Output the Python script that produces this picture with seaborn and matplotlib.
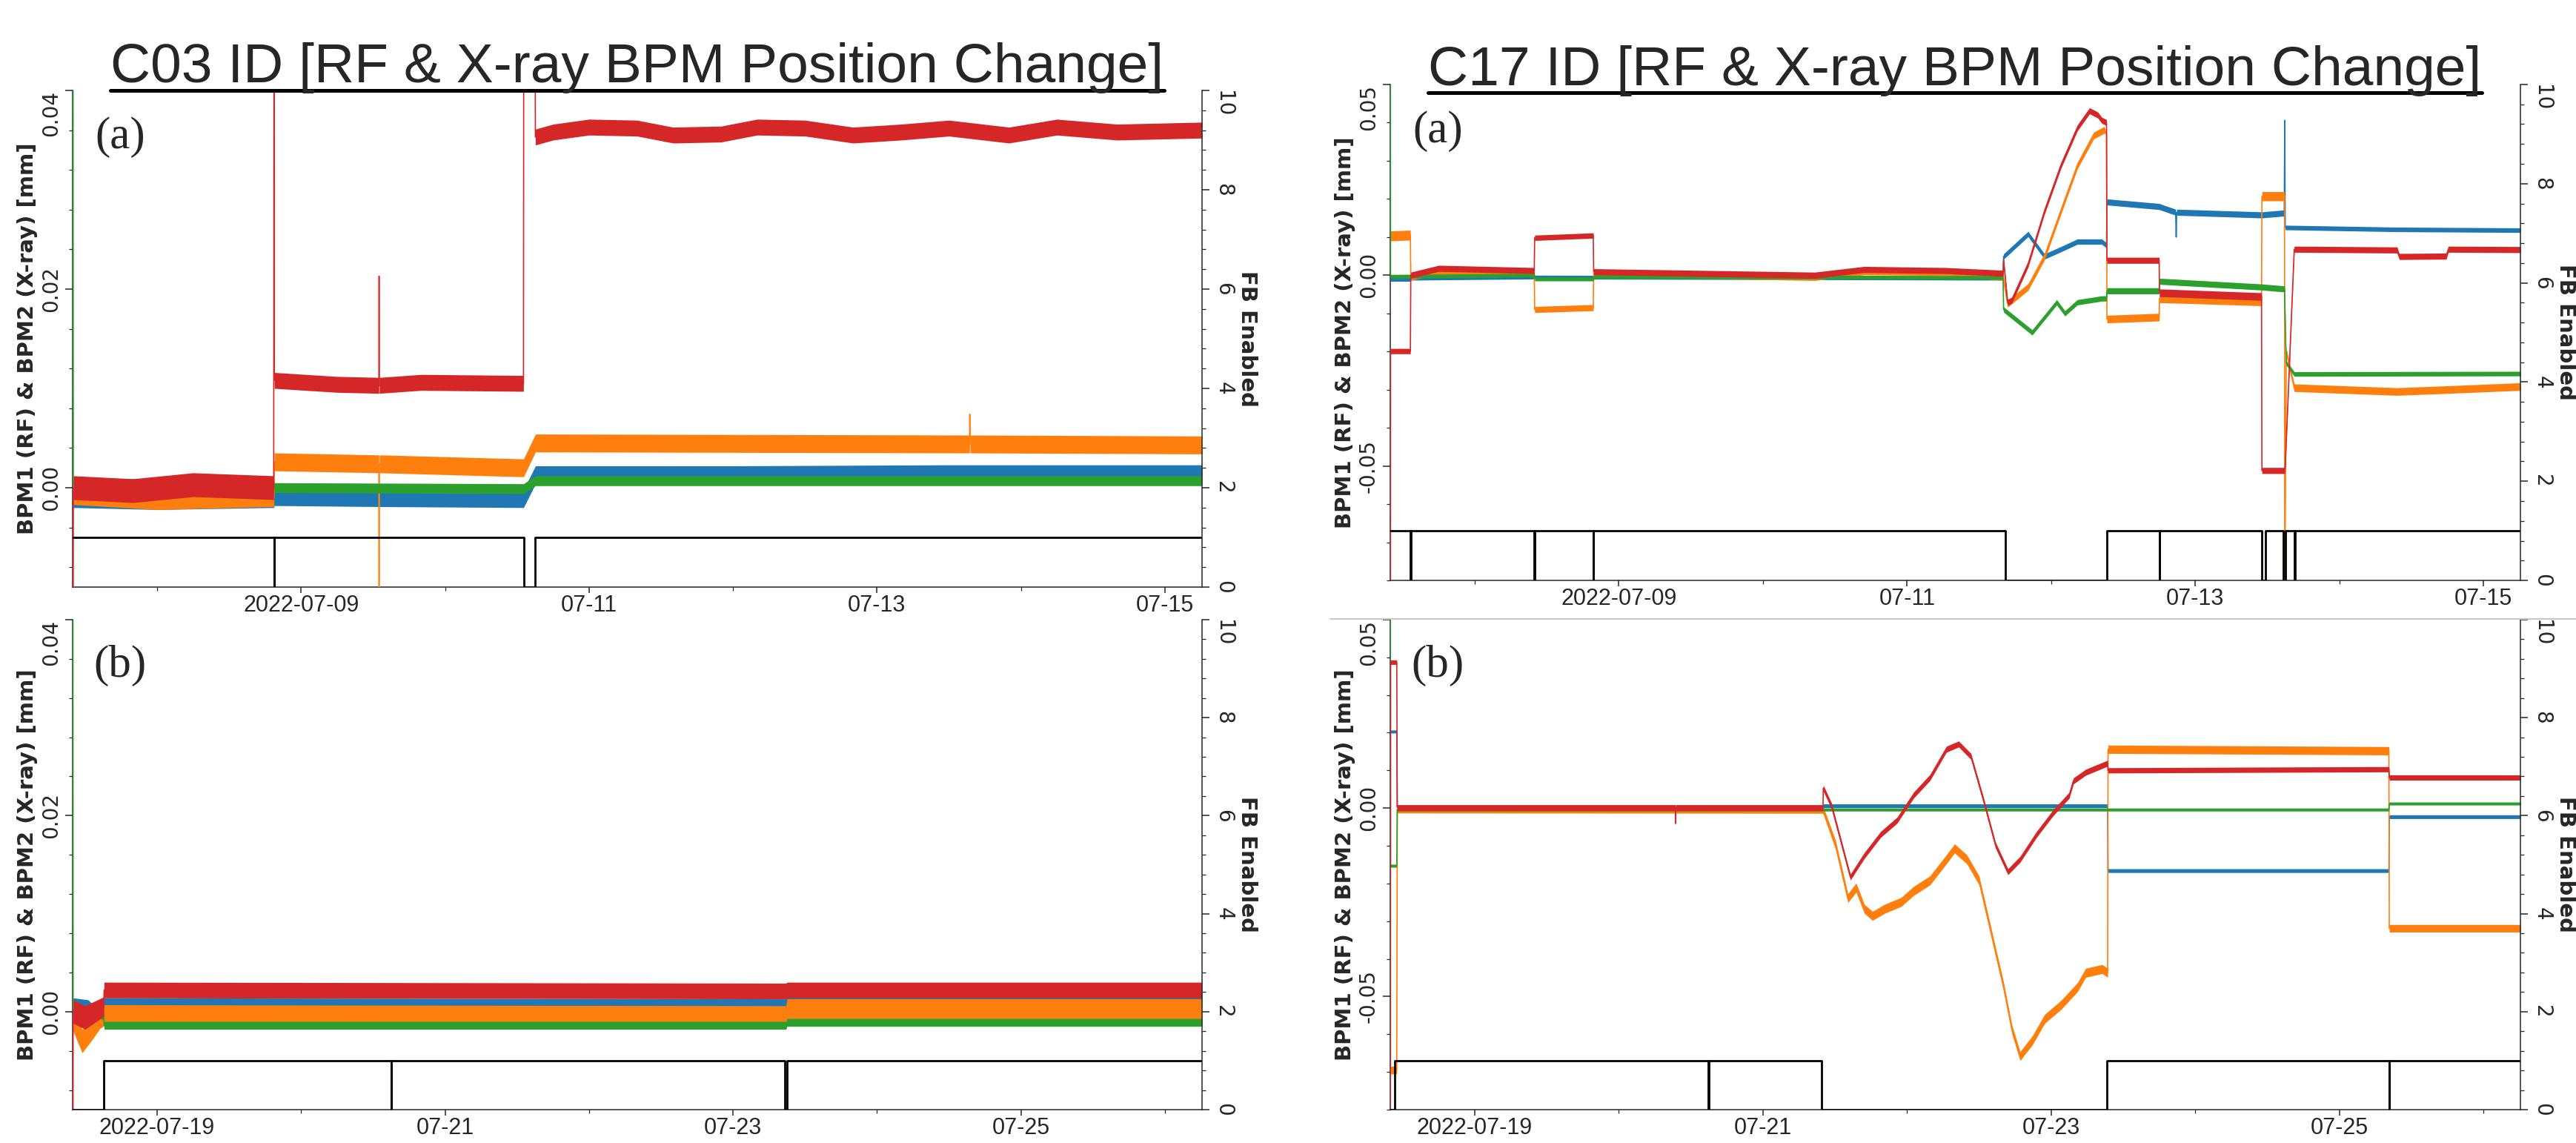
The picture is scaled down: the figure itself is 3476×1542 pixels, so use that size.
import matplotlib
matplotlib.use("Agg")
import pandas as pd
import matplotlib.pyplot as plt
from matplotlib.lines import Line2D
from matplotlib.ticker import AutoMinorLocator
import matplotlib.dates as mdates
import seaborn as sns

# ---------------- data ----------------
# each point: (time, position [mm], half-width of the noise band [mm])

C03_A_BLUE = [
    ("2022-07-07 10:00", -0.0012, 0.0008), ("2022-07-08 00:00", -0.0014, 0.0008),
    ("2022-07-08 19:28", -0.0012, 0.0008), ("2022-07-08 19:32", -0.0009, 0.0009),
    ("2022-07-09 12:00", -0.0010, 0.0009), ("2022-07-10 13:05", -0.0011, 0.0009),
    ("2022-07-10 15:04", 0.0013, 0.0009), ("2022-07-12 00:00", 0.0013, 0.0009),
    ("2022-07-13 12:00", 0.0014, 0.0009), ("2022-07-15 06:10", 0.0014, 0.0009),
]
C03_A_ORANGE = [
    ("2022-07-07 10:00", -0.0008, 0.0009), ("2022-07-08 00:00", -0.0013, 0.0009),
    ("2022-07-08 19:28", -0.0010, 0.0009), ("2022-07-08 19:32", 0.0026, 0.0009),
    ("2022-07-09 12:58", 0.0024, 0.0009), ("2022-07-09 13:00", -0.0150, 0.0),
    ("2022-07-09 13:02", 0.0024, 0.0009), ("2022-07-10 13:05", 0.0020, 0.0009),
    ("2022-07-10 15:04", 0.0045, 0.0009), ("2022-07-13 15:25", 0.0044, 0.0009),
    ("2022-07-13 15:28", 0.0074, 0.0), ("2022-07-13 15:31", 0.0044, 0.0009),
    ("2022-07-15 06:10", 0.0043, 0.0009),
]
C03_A_GREEN = [
    ("2022-07-07 09:57", 0.0800, 0.0), ("2022-07-07 10:02", 0.0004, 0.0005),
    ("2022-07-08 19:28", 0.0004, 0.0005), ("2022-07-08 19:32", 0.0000, 0.0005),
    ("2022-07-10 13:05", -0.0001, 0.0005), ("2022-07-10 15:04", 0.0007, 0.0005),
    ("2022-07-15 06:10", 0.0007, 0.0005),
]
C03_A_RED = [
    ("2022-07-07 09:57", -0.0500, 0.0), ("2022-07-07 10:02", 0.0000, 0.0012),
    ("2022-07-07 20:00", -0.0003, 0.0012), ("2022-07-08 06:00", 0.0003, 0.0012),
    ("2022-07-08 19:26", 0.0000, 0.0012), ("2022-07-08 19:29", 0.0500, 0.0),
    ("2022-07-08 19:32", 0.0108, 0.0008), ("2022-07-09 06:00", 0.0104, 0.0008),
    ("2022-07-09 12:58", 0.0103, 0.0008), ("2022-07-09 13:00", 0.0213, 0.0),
    ("2022-07-09 13:02", 0.0103, 0.0008), ("2022-07-09 20:00", 0.0106, 0.0008),
    ("2022-07-10 13:04", 0.0105, 0.0008), ("2022-07-10 13:07", 0.0500, 0.0),
    ("2022-07-10 15:00", 0.0500, 0.0), ("2022-07-10 15:03", 0.0353, 0.0008),
    ("2022-07-10 18:00", 0.0358, 0.0008), ("2022-07-11 00:00", 0.0363, 0.0008),
    ("2022-07-11 08:00", 0.0362, 0.0008), ("2022-07-11 14:00", 0.0355, 0.0008),
    ("2022-07-11 22:00", 0.0356, 0.0008), ("2022-07-12 04:00", 0.0363, 0.0008),
    ("2022-07-12 12:00", 0.0362, 0.0008), ("2022-07-12 20:00", 0.0355, 0.0008),
    ("2022-07-13 04:00", 0.0358, 0.0008), ("2022-07-13 12:00", 0.0362, 0.0008),
    ("2022-07-13 22:00", 0.0355, 0.0008), ("2022-07-14 06:00", 0.0363, 0.0008),
    ("2022-07-14 16:00", 0.0358, 0.0008), ("2022-07-15 06:10", 0.0360, 0.0008),
]
C03_A_FB = [
    ("2022-07-07 09:55", 1), ("2022-07-08 19:29", 0), ("2022-07-08 19:31", 1),
    ("2022-07-10 13:06", 0), ("2022-07-10 15:02", 1), ("2022-07-15 06:10", 1),
]

C03_B_BLUE = [
    ("2022-07-18 10:00", 0.0008, 0.0006), ("2022-07-18 12:30", 0.0006, 0.0006),
    ("2022-07-18 13:30", 0.0000, 0.0006), ("2022-07-18 15:05", 0.0000, 0.0006),
    ("2022-07-18 15:10", 0.0009, 0.0005), ("2022-07-23 08:50", 0.0008, 0.0005),
    ("2022-07-23 09:00", 0.0011, 0.0005), ("2022-07-26 06:10", 0.0011, 0.0005),
]
C03_B_ORANGE = [
    ("2022-07-18 10:00", -0.0010, 0.0010), ("2022-07-18 11:30", -0.0030, 0.0012),
    ("2022-07-18 13:00", -0.0020, 0.0010), ("2022-07-18 14:30", -0.0008, 0.0009),
    ("2022-07-18 15:05", -0.0006, 0.0009), ("2022-07-18 15:10", -0.0002, 0.0009),
    ("2022-07-23 08:50", -0.0003, 0.0009), ("2022-07-23 09:00", 0.0001, 0.0012),
    ("2022-07-26 06:10", 0.0001, 0.0012),
]
C03_B_GREEN = [
    ("2022-07-18 09:56", 0.1000, 0.0), ("2022-07-18 10:00", 0.0003, 0.0006),
    ("2022-07-18 15:05", -0.0003, 0.0005), ("2022-07-18 15:10", -0.0014, 0.0004),
    ("2022-07-23 08:50", -0.0014, 0.0004), ("2022-07-23 09:00", -0.0011, 0.0004),
    ("2022-07-26 06:10", -0.0011, 0.0004),
]
C03_B_RED = [
    ("2022-07-18 09:56", -0.0500, 0.0), ("2022-07-18 10:00", 0.0000, 0.0012),
    ("2022-07-18 12:00", -0.0006, 0.0012), ("2022-07-18 15:05", 0.0005, 0.0010),
    ("2022-07-18 15:10", 0.0022, 0.0008), ("2022-07-23 08:50", 0.0021, 0.0008),
    ("2022-07-23 09:00", 0.0022, 0.0008), ("2022-07-26 06:10", 0.0022, 0.0008),
]
C03_B_FB = [
    ("2022-07-18 09:55", 0), ("2022-07-18 15:07", 1), ("2022-07-20 15:00", 0),
    ("2022-07-20 15:03", 1), ("2022-07-23 08:40", 0), ("2022-07-23 09:00", 1),
    ("2022-07-26 06:10", 1),
]

C17_A_BLUE = [
    ("2022-07-07 09:58", -0.0011, 0.0005), ("2022-07-07 13:15", -0.0011, 0.0005),
    ("2022-07-07 13:20", -0.0008, 0.0005), ("2022-07-08 09:56", -0.0005, 0.0005),
    ("2022-07-11 16:00", -0.0008, 0.0005), ("2022-07-11 16:05", 0.0049, 0.0007),
    ("2022-07-11 20:10", 0.0108, 0.0007), ("2022-07-11 22:54", 0.0049, 0.0007),
    ("2022-07-12 01:37", 0.0068, 0.0007), ("2022-07-12 04:22", 0.0088, 0.0007),
    ("2022-07-12 08:27", 0.0088, 0.0007), ("2022-07-12 09:14", 0.0078, 0.0007),
    ("2022-07-12 09:18", 0.0192, 0.0008), ("2022-07-12 18:00", 0.0180, 0.0008),
    ("2022-07-12 20:45", 0.0165, 0.0008), ("2022-07-12 20:50", 0.0100, 0.0),
    ("2022-07-12 20:55", 0.0165, 0.0008), ("2022-07-13 11:05", 0.0158, 0.0008),
    ("2022-07-13 14:50", 0.0163, 0.0008), ("2022-07-13 14:55", 0.0406, 0.0),
    ("2022-07-13 15:00", 0.0125, 0.0006), ("2022-07-14 09:38", 0.0120, 0.0006),
    ("2022-07-15 06:10", 0.0118, 0.0006),
]
C17_A_ORANGE = [
    ("2022-07-07 09:58", 0.0103, 0.0013), ("2022-07-07 13:16", 0.0105, 0.0013),
    ("2022-07-07 13:20", -0.0005, 0.0008), ("2022-07-07 18:00", 0.0010, 0.0008),
    ("2022-07-08 09:54", 0.0008, 0.0008), ("2022-07-08 09:58", -0.0090, 0.0008),
    ("2022-07-08 19:44", -0.0085, 0.0008), ("2022-07-08 19:48", 0.0005, 0.0009),
    ("2022-07-10 08:38", -0.0005, 0.0009), ("2022-07-10 16:50", 0.0010, 0.0009),
    ("2022-07-11 06:30", 0.0008, 0.0009), ("2022-07-11 16:00", -0.0005, 0.0009),
    ("2022-07-11 16:45", -0.0075, 0.0009), ("2022-07-11 20:10", -0.0031, 0.0009),
    ("2022-07-11 22:54", 0.0049, 0.0009), ("2022-07-12 01:37", 0.0168, 0.0009),
    ("2022-07-12 04:22", 0.0287, 0.0009), ("2022-07-12 07:05", 0.0366, 0.0009),
    ("2022-07-12 08:52", 0.0381, 0.0009), ("2022-07-12 09:14", 0.0370, 0.0),
    ("2022-07-12 09:18", -0.0115, 0.0010), ("2022-07-12 18:00", -0.0110, 0.0010),
    ("2022-07-12 18:03", -0.0060, 0.0012), ("2022-07-13 11:03", -0.0068, 0.0012),
    ("2022-07-13 11:07", 0.0207, 0.0012), ("2022-07-13 14:53", 0.0207, 0.0012),
    ("2022-07-13 14:55", -0.0900, 0.0), ("2022-07-13 15:10", -0.0200, 0.0010),
    ("2022-07-13 16:30", -0.0295, 0.0010), ("2022-07-14 09:38", -0.0305, 0.0010),
    ("2022-07-14 17:49", -0.0300, 0.0010), ("2022-07-15 06:10", -0.0292, 0.0010),
]
C17_A_GREEN = [
    ("2022-07-07 09:56", 0.1000, 0.0), ("2022-07-07 09:58", -0.0003, 0.0005),
    ("2022-07-08 09:56", 0.0000, 0.0005), ("2022-07-08 10:00", -0.0010, 0.0005),
    ("2022-07-08 19:46", -0.0010, 0.0005), ("2022-07-08 19:50", -0.0004, 0.0005),
    ("2022-07-11 16:00", -0.0006, 0.0005), ("2022-07-11 16:05", -0.0090, 0.0007),
    ("2022-07-11 20:51", -0.0150, 0.0007), ("2022-07-12 00:56", -0.0071, 0.0007),
    ("2022-07-12 02:18", -0.0100, 0.0007), ("2022-07-12 04:22", -0.0071, 0.0007),
    ("2022-07-12 08:27", -0.0061, 0.0007), ("2022-07-12 09:14", -0.0061, 0.0007),
    ("2022-07-12 09:18", -0.0041, 0.0008), ("2022-07-12 18:00", -0.0041, 0.0008),
    ("2022-07-12 18:03", -0.0016, 0.0008), ("2022-07-13 11:05", -0.0031, 0.0008),
    ("2022-07-13 14:53", -0.0036, 0.0008), ("2022-07-13 15:10", -0.0230, 0.0006),
    ("2022-07-13 16:30", -0.0259, 0.0006), ("2022-07-15 06:10", -0.0258, 0.0006),
]
C17_A_RED = [
    ("2022-07-07 09:56", -0.2000, 0.0), ("2022-07-07 09:58", -0.0199, 0.0007),
    ("2022-07-07 13:16", -0.0199, 0.0007), ("2022-07-07 13:20", 0.0000, 0.0008),
    ("2022-07-07 18:00", 0.0018, 0.0008), ("2022-07-08 09:54", 0.0012, 0.0008),
    ("2022-07-08 09:58", 0.0098, 0.0007), ("2022-07-08 19:44", 0.0104, 0.0007),
    ("2022-07-08 19:48", 0.0009, 0.0008), ("2022-07-10 08:38", 0.0000, 0.0008),
    ("2022-07-10 16:50", 0.0015, 0.0008), ("2022-07-11 06:30", 0.0012, 0.0008),
    ("2022-07-11 16:00", 0.0005, 0.0008), ("2022-07-11 16:05", 0.0039, 0.0008),
    ("2022-07-11 16:45", -0.0071, 0.0008), ("2022-07-11 17:26", -0.0066, 0.0008),
    ("2022-07-11 20:10", 0.0029, 0.0008), ("2022-07-11 22:54", 0.0168, 0.0008),
    ("2022-07-12 01:37", 0.0287, 0.0008), ("2022-07-12 04:22", 0.0386, 0.0008),
    ("2022-07-12 06:24", 0.0431, 0.0008), ("2022-07-12 07:46", 0.0420, 0.0008),
    ("2022-07-12 08:27", 0.0406, 0.0008), ("2022-07-12 09:14", 0.0400, 0.0008),
    ("2022-07-12 09:18", 0.0039, 0.0008), ("2022-07-12 18:00", 0.0039, 0.0008),
    ("2022-07-12 18:03", -0.0046, 0.0010), ("2022-07-13 11:03", -0.0056, 0.0010),
    ("2022-07-13 11:07", -0.0512, 0.0008), ("2022-07-13 14:53", -0.0512, 0.0008),
    ("2022-07-13 15:00", -0.0500, 0.0008), ("2022-07-13 16:30", 0.0068, 0.0008),
    ("2022-07-14 09:38", 0.0066, 0.0008), ("2022-07-14 10:00", 0.0049, 0.0008),
    ("2022-07-14 17:49", 0.0050, 0.0008), ("2022-07-14 18:10", 0.0068, 0.0008),
    ("2022-07-15 06:10", 0.0067, 0.0008),
]
C17_A_FB = [
    ("2022-07-07 09:55", 1), ("2022-07-07 13:17", 0), ("2022-07-07 13:19", 1),
    ("2022-07-08 09:55", 0), ("2022-07-08 09:57", 1), ("2022-07-08 19:45", 0),
    ("2022-07-08 19:47", 1), ("2022-07-11 16:25", 0), ("2022-07-12 09:16", 1),
    ("2022-07-12 18:00", 0), ("2022-07-12 18:06", 1), ("2022-07-13 11:05", 0),
    ("2022-07-13 11:45", 1), ("2022-07-13 14:40", 0), ("2022-07-13 15:00", 1),
    ("2022-07-13 16:33", 0), ("2022-07-13 16:36", 1), ("2022-07-15 06:10", 1),
]

C17_B_BLUE = [
    ("2022-07-18 09:57", 0.0203, 0.0004), ("2022-07-18 11:00", 0.0203, 0.0004),
    ("2022-07-18 11:05", 0.0003, 0.0004), ("2022-07-21 10:00", 0.0002, 0.0004),
    ("2022-07-21 10:05", 0.0006, 0.0005), ("2022-07-23 09:25", 0.0006, 0.0005),
    ("2022-07-23 09:29", -0.0166, 0.0005), ("2022-07-25 08:16", -0.0166, 0.0005),
    ("2022-07-25 08:20", -0.0023, 0.0005), ("2022-07-26 06:10", -0.0023, 0.0005),
]
C17_B_ORANGE = [
    ("2022-07-18 09:57", -0.0695, 0.0010), ("2022-07-18 11:00", -0.0695, 0.0010),
    ("2022-07-18 11:05", -0.0003, 0.0010), ("2022-07-21 10:00", -0.0004, 0.0010),
    ("2022-07-21 12:06", -0.0098, 0.0012), ("2022-07-21 14:09", -0.0239, 0.0012),
    ("2022-07-21 15:31", -0.0211, 0.0012), ("2022-07-21 16:53", -0.0267, 0.0012),
    ("2022-07-21 18:14", -0.0286, 0.0012), ("2022-07-21 20:18", -0.0267, 0.0012),
    ("2022-07-21 23:02", -0.0249, 0.0012), ("2022-07-22 01:05", -0.0220, 0.0012),
    ("2022-07-22 03:49", -0.0192, 0.0012), ("2022-07-22 06:33", -0.0136, 0.0012),
    ("2022-07-22 07:55", -0.0107, 0.0012), ("2022-07-22 09:58", -0.0136, 0.0012),
    ("2022-07-22 12:00", -0.0192, 0.0012), ("2022-07-22 14:03", -0.0333, 0.0012),
    ("2022-07-22 16:06", -0.0475, 0.0012), ("2022-07-22 17:29", -0.0588, 0.0012),
    ("2022-07-22 18:50", -0.0658, 0.0012), ("2022-07-22 20:53", -0.0616, 0.0012),
    ("2022-07-22 22:56", -0.0559, 0.0012), ("2022-07-23 01:40", -0.0522, 0.0012),
    ("2022-07-23 04:24", -0.0475, 0.0012), ("2022-07-23 05:46", -0.0437, 0.0012),
    ("2022-07-23 08:30", -0.0427, 0.0012), ("2022-07-23 09:25", -0.0437, 0.0012),
    ("2022-07-23 09:29", 0.0156, 0.0011), ("2022-07-25 08:16", 0.0152, 0.0011),
    ("2022-07-25 08:20", -0.0319, 0.0010), ("2022-07-26 06:10", -0.0319, 0.0010),
]
C17_B_GREEN = [
    ("2022-07-18 09:56", 0.1000, 0.0), ("2022-07-18 09:58", -0.0153, 0.0004),
    ("2022-07-18 11:00", -0.0153, 0.0004), ("2022-07-18 11:05", -0.0004, 0.0004),
    ("2022-07-25 08:16", -0.0004, 0.0004), ("2022-07-25 08:20", 0.0012, 0.0004),
    ("2022-07-26 06:10", 0.0012, 0.0004),
]
C17_B_RED = [
    ("2022-07-18 09:55", -0.2000, 0.0), ("2022-07-18 09:58", 0.0387, 0.0006),
    ("2022-07-18 11:00", 0.0387, 0.0006), ("2022-07-18 11:05", 0.0001, 0.0008),
    ("2022-07-20 09:25", 0.0001, 0.0008), ("2022-07-20 09:27", -0.0041, 0.0),
    ("2022-07-20 09:29", 0.0001, 0.0008), ("2022-07-21 10:00", 0.0001, 0.0008),
    ("2022-07-21 10:03", 0.0053, 0.0008), ("2022-07-21 11:25", 0.0006, 0.0008),
    ("2022-07-21 14:34", -0.0183, 0.0008), ("2022-07-21 16:53", -0.0126, 0.0008),
    ("2022-07-21 19:36", -0.0070, 0.0008), ("2022-07-21 22:21", -0.0032, 0.0008),
    ("2022-07-22 01:05", 0.0034, 0.0008), ("2022-07-22 03:49", 0.0081, 0.0008),
    ("2022-07-22 06:33", 0.0156, 0.0008), ("2022-07-22 08:36", 0.0170, 0.0008),
    ("2022-07-22 10:39", 0.0137, 0.0008), ("2022-07-22 12:41", 0.0024, 0.0008),
    ("2022-07-22 14:44", -0.0098, 0.0008), ("2022-07-22 16:48", -0.0169, 0.0008),
    ("2022-07-22 18:50", -0.0136, 0.0008), ("2022-07-22 21:34", -0.0070, 0.0008),
    ("2022-07-23 00:18", -0.0013, 0.0008), ("2022-07-23 03:01", 0.0034, 0.0008),
    ("2022-07-23 03:43", 0.0072, 0.0008), ("2022-07-23 05:46", 0.0095, 0.0008),
    ("2022-07-23 08:30", 0.0113, 0.0008), ("2022-07-23 09:25", 0.0119, 0.0008),
    ("2022-07-23 09:29", 0.0100, 0.0007), ("2022-07-25 08:16", 0.0103, 0.0007),
    ("2022-07-25 08:20", 0.0081, 0.0007), ("2022-07-26 06:10", 0.0081, 0.0007),
]
C17_B_FB = [
    ("2022-07-18 09:55", 0), ("2022-07-18 10:40", 1), ("2022-07-20 14:55", 0),
    ("2022-07-20 14:58", 1), ("2022-07-21 09:46", 0), ("2022-07-23 09:19", 1),
    ("2022-07-25 08:17", 0), ("2022-07-25 08:20", 1), ("2022-07-26 06:10", 1),
]

TITLES = ["C03 ID [RF & X-ray BPM Position Change]", "C17 ID [RF & X-ray BPM Position Change]"]
PANEL_TAGS = ["(a)", "(b)"]
XLIM_A = ["2022-07-07 09:55", "2022-07-15 06:10"]
XLIM_B = ["2022-07-18 09:55", "2022-07-26 06:10"]
XTICKS_A = ["2022-07-09", "2022-07-11", "2022-07-13", "2022-07-15"]
XTICKLABELS_A = ["2022-07-09", "07-11", "07-13", "07-15"]
XTICKS_B = ["2022-07-19", "2022-07-21", "2022-07-23", "2022-07-25"]
XTICKLABELS_B = ["2022-07-19", "07-21", "07-23", "07-25"]
C03_YTICKS = [0.0, 0.02, 0.04]
C03_YTICKLABELS = ["0.00", "0.02", "0.04"]
C17_YTICKS = [-0.05, 0.0, 0.05]
C17_YTICKLABELS = ["-0.05", "0.00", "0.05"]
FB_TICKS = [0, 2, 4, 6, 8, 10]
FB_TICKLABELS = ["0", "2", "4", "6", "8", "10"]

# ---------------- style ----------------
SERIES_ORDER = ["blue", "orange", "green", "red"]
PALETTE = {"blue": "#1f77b4", "orange": "#ff7f0e", "green": "#2ca02c", "red": "#d62728"}
NARROW = ["Liberation Sans", "DejaVu Sans"]

sns.set_style("ticks")
plt.rcParams["font.family"] = ["DejaVu Sans"]
plt.rcParams["axes.linewidth"] = 1.1


def to_frame(points):
    df = pd.DataFrame(points, columns=["time", "value", "spread"])
    df["time"] = pd.to_datetime(df["time"])
    return df


def draw_panel(fig, rect, series, fb, ylim, yticks, yticklabels, xlim, xticks, xticklabels, tag):
    ax = fig.add_axes(rect)
    for i, (name, pts) in enumerate(zip(SERIES_ORDER, series)):
        df = to_frame(pts)
        ax.fill_between(df["time"], df["value"] - df["spread"], df["value"] + df["spread"],
                        color=PALETTE[name], lw=0, zorder=3 + 2 * i)
        sns.lineplot(data=df, x="time", y="value", ax=ax, color=PALETTE[name], lw=1.2,
                     estimator=None, sort=False, zorder=4 + 2 * i)

    ax2 = ax.twinx()
    fb_df = pd.DataFrame(fb, columns=["time", "state"])
    fb_df["time"] = pd.to_datetime(fb_df["time"])
    sns.lineplot(data=fb_df, x="time", y="state", ax=ax2, color="black", lw=2.0,
                 estimator=None, sort=False, drawstyle="steps-post")

    ax.set_xlim(pd.to_datetime(xlim[0]), pd.to_datetime(xlim[1]))
    ax.set_ylim(*ylim)
    ax2.set_ylim(0, 10)

    ax.set_xticks(pd.to_datetime(xticks))
    ax.set_xticklabels(xticklabels, fontsize=22, family=NARROW)
    ax.xaxis.set_minor_locator(mdates.DayLocator(bymonthday=range(2, 32, 2)))
    ax.set_xlabel("")
    ax2.set_xlabel("")

    ax.set_yticks(yticks)
    ax.set_yticklabels(yticklabels, rotation=90, va="center", fontsize=20)
    ax.get_yticklabels()[-1].set_va("top")
    ax.yaxis.set_minor_locator(AutoMinorLocator(5))

    ax2.set_yticks(FB_TICKS)
    ax2.set_yticklabels(FB_TICKLABELS, rotation=270, va="center", fontsize=20)
    ax2.get_yticklabels()[-1].set_va("top")
    ax2.yaxis.set_minor_locator(AutoMinorLocator(5))

    for a in (ax, ax2):
        a.tick_params(which="major", length=7, width=1.1, pad=4)
        a.tick_params(which="minor", length=3.5, width=0.9)
        a.spines["top"].set_visible(False)
    ax.tick_params(axis="x", which="major", length=6, pad=1)
    ax.spines["right"].set_visible(False)
    ax2.spines["left"].set_visible(False)
    ax2.spines["bottom"].set_visible(False)

    ax.set_ylabel("BPM1 (RF) & BPM2 (X-ray) [mm]", fontsize=21, fontweight="bold", va="center")
    ax.yaxis.set_label_coords(-0.040, 0.5)
    ax2.set_ylabel("FB Enabled", fontsize=21, fontweight="bold", rotation=270, va="center")
    ax2.yaxis.set_label_coords(1.040, 0.5)

    ax.text(0.042, 0.906, tag, transform=ax.transAxes, fontsize=44,
            family="Liberation Serif", ha="center", va="center")
    return ax


fig = plt.figure(figsize=(34.76, 15.42), dpi=100)

draw_panel(fig, [0.0282, 0.4864, 0.4384, 0.4345],
           [C03_A_BLUE, C03_A_ORANGE, C03_A_GREEN, C03_A_RED], C03_A_FB,
           (-0.01, 0.04), C03_YTICKS, C03_YTICKLABELS, XLIM_A, XTICKS_A, XTICKLABELS_A, PANEL_TAGS[0])
draw_panel(fig, [0.0282, 0.0292, 0.4384, 0.4287],
           [C03_B_BLUE, C03_B_ORANGE, C03_B_GREEN, C03_B_RED], C03_B_FB,
           (-0.01, 0.04), C03_YTICKS, C03_YTICKLABELS, XLIM_B, XTICKS_B, XTICKLABELS_B, PANEL_TAGS[1])
draw_panel(fig, [0.5397, 0.4922, 0.4387, 0.4339],
           [C17_A_BLUE, C17_A_ORANGE, C17_A_GREEN, C17_A_RED], C17_A_FB,
           (-0.08, 0.05), C17_YTICKS, C17_YTICKLABELS, XLIM_A, XTICKS_A, XTICKLABELS_A, PANEL_TAGS[0])
draw_panel(fig, [0.5397, 0.0292, 0.4387, 0.4287],
           [C17_B_BLUE, C17_B_ORANGE, C17_B_GREEN, C17_B_RED], C17_B_FB,
           (-0.08, 0.05), C17_YTICKS, C17_YTICKLABELS, XLIM_B, XTICKS_B, XTICKLABELS_B, PANEL_TAGS[1])

# underlined titles
title_objs = [
    (fig.text(0.2474, 0.928, TITLES[0], ha="center", va="baseline", fontsize=54, family=NARROW), 0.9209),
    (fig.text(0.7589, 0.9254, TITLES[1], ha="center", va="baseline", fontsize=54, family=NARROW), 0.9189),
]
fig.canvas.draw()
renderer = fig.canvas.get_renderer()
for txt, y_ul in title_objs:
    bb = txt.get_window_extent(renderer)
    x0, x1 = bb.x0 / fig.bbox.width, bb.x1 / fig.bbox.width
    fig.add_artist(Line2D([x0, x1], [y_ul, y_ul], color="black", lw=3.6, transform=fig.transFigure))

# thin separator above the lower-right panel
fig.add_artist(Line2D([0.5164, 1.0], [0.4585, 0.4585], color="#c8c8c8", lw=1.5, transform=fig.transFigure))

fig.savefig("out.png", dpi=100)
